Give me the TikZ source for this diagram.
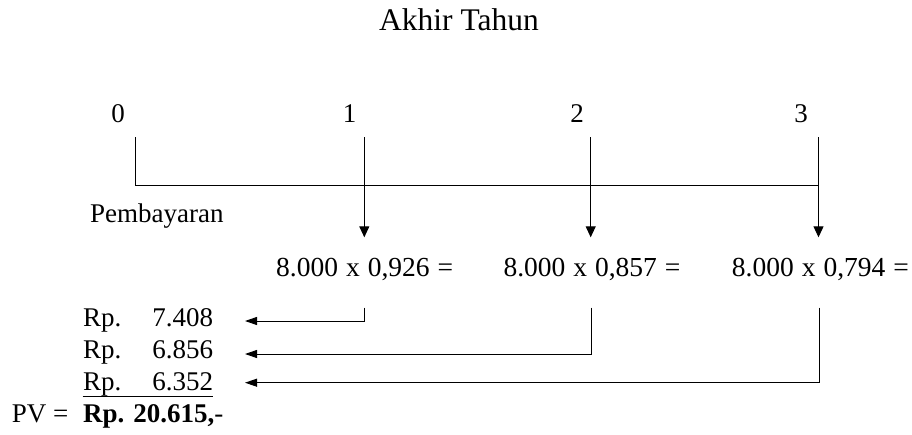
\documentclass[tikz,border=0pt]{standalone}
\usepackage{fontspec}
\setmainfont{Liberation Serif}
\usetikzlibrary{arrows.meta}
\newcommand{\gap}{\hspace{8pt}}
\begin{document}
\begin{tikzpicture}[x=1pt,y=-1pt,
  txt/.style={inner sep=0pt,anchor=base west,font=\fontsize{27}{32}\selectfont},
  eqn/.style={inner sep=0pt,anchor=base west,font=\fontsize{27.5}{32}\selectfont},
  digit/.style={inner sep=0pt,anchor=base,font=\fontsize{27}{32}\selectfont},
  ln/.style={line width=1pt},
  down/.style={ln,-{Triangle[length=11pt,width=10pt]}},
  back/.style={ln,-{Triangle[length=12pt,width=8pt]}}]
\useasboundingbox (0,0) rectangle (912,434);

% heading
\node[inner sep=0pt,anchor=base west,font=\fontsize{31.5}{36}\selectfont] (head) at (379,30.5) {Akhir Tahun};

% year labels
\node[digit] (y0) at (118,122.5) {0};
\node[digit] (y1) at (349.5,122.5) {1};
\node[digit] (y2) at (577,122.5) {2};
\node[digit] (y3) at (801,122.5) {3};

% time line
\coordinate (t0top) at (135,137.3);
\coordinate (t0) at (135,185.5);
\coordinate (t3) at (818.5,185.5);
\draw[ln] (t0top) -- (t0) -- (t3);

% payment arrows
\coordinate (p1s) at (364.3,137.3);
\coordinate (p2s) at (590.7,137.3);
\coordinate (p3s) at (818.5,137.3);
\coordinate (p1e) at (364.3,237.3);
\coordinate (p2e) at (590.7,237.3);
\coordinate (p3e) at (818.5,237.3);
\draw[down] (p1s) -- (p1e);
\draw[down] (p2s) -- (p2e);
\draw[down] (p3s) -- (p3e);

\node[txt] (pemb) at (90,222.3) {Pembayaran};

% discounting
\node[eqn] (eq1) at (276,276.7) {8.000\gap x\gap 0,926\gap =};
\node[eqn] (eq2) at (503.3,276.7) {8.000\gap x\gap 0,857\gap =};
\node[eqn] (eq3) at (731.7,276.7) {8.000\gap x\gap 0,794\gap =};

% present values
\node[txt] (rp1) at (83,326.7) {Rp.\hspace{31pt}7.408};
\node[txt] (rp2) at (83,358.3) {Rp.\hspace{31pt}6.856};
\node[txt] (rp3) at (83,390) {Rp.\hspace{31pt}6.352};
\draw[line width=1pt] (82.7,396.7) -- (213.3,396.7);
\node[txt] (pvl) at (11.7,422.5) {PV =};
\node[txt] (pv) at (83,422.5) {\textbf{Rp. 20.615,}-};

% return arrows
\coordinate (r1s) at (364.3,307.7);
\coordinate (r2s) at (591,307.7);
\coordinate (r3s) at (819,307.7);
\coordinate (r1e) at (245,321);
\coordinate (r2e) at (245,354);
\coordinate (r3e) at (245,382.7);
\draw[back] (r1s) |- (r1e);
\draw[back] (r2s) |- (r2e);
\draw[back] (r3s) |- (r3e);
\end{tikzpicture}
\end{document}
